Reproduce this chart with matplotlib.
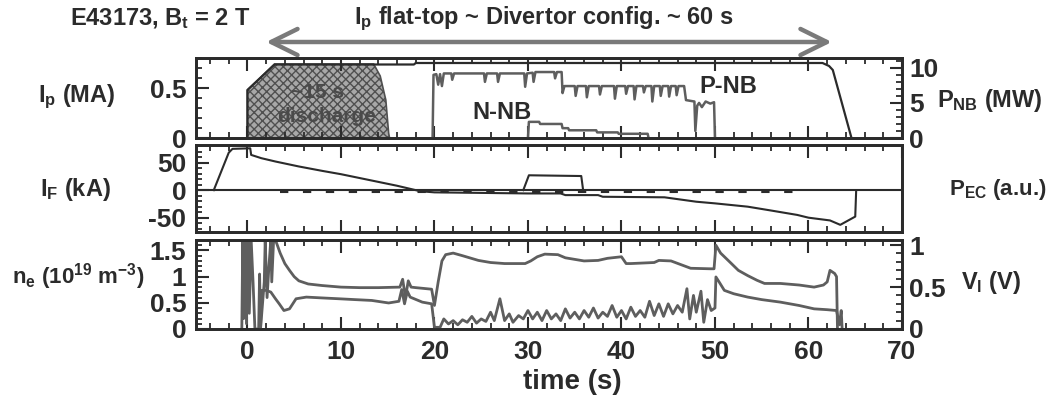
import matplotlib
matplotlib.use("Agg")
import matplotlib.pyplot as plt
from matplotlib.ticker import MultipleLocator

plt.rcParams["font.family"] = ["Liberation Sans", "DejaVu Sans"]
plt.rcParams["font.weight"] = "bold"
plt.rcParams["axes.unicode_minus"] = False
plt.rcParams["mathtext.fontset"] = "custom"
plt.rcParams["mathtext.rm"] = "Liberation Sans:bold"
plt.rcParams["mathtext.it"] = "Liberation Sans:bold"
plt.rcParams["mathtext.bf"] = "Liberation Sans:bold"
plt.rcParams["mathtext.default"] = "rm"
plt.rcParams["hatch.linewidth"] = 1.0

# ---- data --------------------------------------------------------------

# plasma current Ip (MA)
ip_t = [0, 0, 2.9, 17.8, 18.0, 61.5, 62.2, 62.6, 64.6]
ip_v = [0, 0.48, 0.735, 0.735, 0.75, 0.75, 0.72, 0.68, 0]

# shaded "~15 s discharge" outline (MA)
disc_t = [0, 0, 2.9, 13.5, 14.2, 14.8, 15.1, 15.2]
disc_v = [0, 0.48, 0.74, 0.74, 0.62, 0.38, 0.05, 0]

# P-NB total (MW)
pnb_t = [19.8, 19.9, 20.2, 20.4, 20.6, 20.8, 21.0, 21.8, 21.9, 22.1, 25.3, 25.4,
         25.6, 26.7, 26.8, 27.0, 29.6, 29.7, 29.9, 30.5, 30.6, 30.8, 32.8, 32.9,
         33.1, 33.6, 33.7, 33.9, 35.0, 35.1, 35.3, 36.2, 36.3, 36.5, 37.6, 37.7,
         37.9, 39.2, 39.3, 39.5, 40.4, 40.5, 40.7, 41.3, 41.4, 41.6, 42.3, 42.4,
         42.6, 43.2, 43.3, 43.5, 44.1, 44.2, 44.4, 45.0, 45.1, 45.3, 45.8, 45.9,
         46.1, 46.7, 46.9, 47.8, 47.9, 48.1, 48.3, 48.6, 49.0, 49.5, 49.9, 50.0]
pnb_v = [0, 9.0, 9.1, 7.6, 9.1, 7.4, 9.2, 9.2, 8.3, 9.2, 9.2, 8.0,
         9.2, 9.2, 8.0, 9.2, 9.2, 7.3, 9.2, 9.3, 8.0, 9.4, 9.4, 8.5,
         9.4, 9.4, 6.4, 7.4, 7.4, 6.0, 7.4, 7.4, 5.8, 7.4, 7.4, 6.2,
         7.4, 7.4, 5.6, 7.4, 7.4, 6.3, 7.4, 7.4, 5.5, 7.4, 7.4, 6.5,
         7.4, 7.4, 5.2, 7.4, 7.4, 6.0, 7.4, 7.4, 5.9, 7.4, 7.4, 6.1,
         7.4, 7.4, 5.4, 5.2, 1.0, 4.6, 5.0, 4.4, 5.2, 4.9, 5.1, 0]

# N-NB (MW)
nnb_t = [30.0, 30.1, 31.2, 31.3, 33.6, 33.7, 34.3, 34.4, 37.3, 37.4, 39.6, 39.7, 42.8, 42.9]
nnb_v = [0, 2.3, 2.3, 2.0, 2.0, 1.4, 1.4, 1.1, 1.1, 0.8, 0.8, 0.6, 0.6, 0]

# coil current I_F (kA)
if_t = [-3.6, -2.0, -1.6, 0.3, 0.4, 1.5, 3, 5.5, 8, 10, 12, 14, 16, 17.5, 18.5,
        20, 25, 30, 33.5, 34, 37.5, 38, 44.6, 48, 50, 53.5, 56, 58.8, 60, 62.3,
        63.4, 65.0, 65.1]
if_v = [0, 68, 75, 76, 64, 58, 52, 43, 35, 29, 22, 15, 8, 2, -2,
        -4, -5, -6, -6, -9, -9, -12, -13, -21, -24, -30, -37, -45, -50, -55,
        -63, -48, 0]

# dashed reference trace (kA)
ifd_t = [3.5, 59.0]
ifd_v = [-4, -4]

# EC power (a.u.)
pec_t = [29.5, 30.1, 35.7, 35.9]
pec_v = [0, 1.0, 0.95, 0]

# line density n_e (1e19 m^-3)
ne_t = [-0.6, -0.5, -0.4, -0.2, -0.1, 0.1, 0.2, 0.4, 0.6, 0.8, 1.2, 1.3, 1.4,
        1.8, 1.9, 2.1, 2.3, 2.5, 2.6, 2.8, 3.1, 3.5, 4.0, 4.5, 5.0, 5.5, 6.5,
        8.0, 10, 12, 14, 16.3, 16.6, 16.9, 17.2, 17.5, 18, 19.7, 20.0, 20.4,
        20.8, 21.2, 22, 23, 24.7, 26, 27.5, 29.7, 30.3, 31, 31.8, 33.2, 34, 35,
        36, 37.5, 38.5, 40, 40.5, 41, 43.5, 44, 45.3, 46.5, 47.4, 49.5, 49.9,
        50.1, 50.6, 51.7, 52.5, 53.5, 54.5, 55.3, 57, 59, 60.6, 61.6, 62.0,
        62.3, 62.8, 63.0, 63.1]
ne_v = [0, 1.7, 0.2, 1.7, 0.1, 1.7, 0.3, 1.7, 0.9, 0.0, 0.0, 1.05, 0.0,
        0.9, 1.7, 0.6, 1.2, 1.7, 0.9, 1.7, 1.65, 1.45, 1.25, 1.12, 1.0, 0.92, 0.86,
        0.83, 0.80, 0.79, 0.79, 0.80, 0.95, 0.60, 0.92, 0.80, 0.79, 0.76, 0.45, 0.9,
        1.3, 1.42, 1.45, 1.40, 1.31, 1.27, 1.25, 1.25, 1.30, 1.38, 1.43, 1.42, 1.36, 1.33,
        1.30, 1.31, 1.35, 1.38, 1.25, 1.25, 1.27, 1.31, 1.30, 1.22, 1.16, 1.15, 1.15,
        1.60, 1.45, 1.26, 1.12, 1.02, 0.93, 0.87, 0.87, 0.84, 0.80, 0.84, 0.90,
        1.12, 1.06, 1.00, 0.0]

# loop voltage V_l (V)
vl_t = [1.4, 1.5, 2.0, 2.5, 3.0, 3.4, 3.9, 4.5, 5.2, 6.3, 8, 9.8, 11.5, 13.3,
        15.1, 16.2, 16.5, 16.8, 17.1, 17.4, 18.7, 19.7, 20.0, 20.6,
        21.0, 21.5, 22, 22.5, 23, 23.5, 24, 24.5, 25, 25.5, 26, 26.4, 27, 27.5,
        28, 28.4, 29, 29.5, 30, 30.5, 31, 31.5, 32, 32.5, 33, 33.5, 34, 34.5,
        35, 35.5, 36, 36.5, 37, 37.5, 38, 38.5, 39, 39.5, 40, 40.5, 41, 41.5,
        42, 42.5, 43, 43.5, 44, 44.5, 45, 45.5, 46, 46.5, 47, 47.3, 47.7, 48,
        48.5, 48.8, 49.2, 49.6, 50.0, 50.1, 50.5, 51, 52, 53.5, 55, 57, 59,
        60.6, 62, 63.0, 63.3, 63.5, 63.6]
vl_v = [0.0, 0.46, 0.46, 0.44, 0.36, 0.30, 0.22, 0.24, 0.36, 0.38, 0.37, 0.36, 0.35, 0.34,
        0.31, 0.33, 0.47, 0.30, 0.45, 0.38, 0.32, 0.30, 0.02, 0.02,
        0.12, 0.06, 0.10, 0.05, 0.11, 0.08, 0.15, 0.07, 0.12, 0.09, 0.20, 0.10, 0.36, 0.10,
        0.18, 0.08, 0.16, 0.12, 0.22, 0.12, 0.20, 0.10, 0.22, 0.12, 0.18, 0.10, 0.24, 0.13,
        0.20, 0.12, 0.22, 0.14, 0.25, 0.13, 0.20, 0.15, 0.28, 0.14, 0.22, 0.12, 0.26, 0.15,
        0.22, 0.14, 0.33, 0.16, 0.30, 0.15, 0.30, 0.18, 0.28, 0.20, 0.48, 0.12, 0.40, 0.20,
        0.45, 0.08, 0.35, 0.22, 0.25, 0.62, 0.55, 0.46, 0.42, 0.38, 0.35, 0.32, 0.28,
        0.24, 0.23, 0.22, 0.05, 0.22, 0.0]

time_ticks = [0, 10, 20, 30, 40, 50, 60, 70]

# ---- figure ------------------------------------------------------------

ink = "#2b2b2b"
trace = "#5e5e5e"
W, H = 1060, 398

fig = plt.figure(figsize=(W / 100, H / 100), dpi=100)

def box(top, bottom):
    return [196 / W, 1 - bottom / H, (902 - 196) / W, (bottom - top) / H]

ax1 = fig.add_axes(box(58, 138))
ax2 = fig.add_axes(box(145, 232), sharex=ax1)
ax3 = fig.add_axes(box(240, 329), sharex=ax1)
ax1r = ax1.twinx()
ax2r = ax2.twinx()
ax3r = ax3.twinx()

# panel 1
ax1.fill(disc_t, disc_v, facecolor="#a8a8a8", edgecolor="#505050", hatch="xxxx", lw=1.2)
ax1.plot(ip_t, ip_v, color=ink, lw=1.6)
ax1r.plot(pnb_t, pnb_v, color=trace, lw=1.8)
ax1r.plot(nnb_t, nnb_v, color=trace, lw=1.8)
ax1.set_ylim(0, 0.8)
ax1r.set_ylim(0, 11.4)
ax1.text(7.5, 0.46, "~15 s", ha="center", va="center", fontsize=15, color="#4a4a4a")
ax1.text(8.5, 0.22, "discharge", ha="center", va="center", fontsize=15, color="#4a4a4a")
ax1r.text(27.2, 3.7, "N-NB", ha="center", va="center", fontsize=17, color=ink)
ax1r.text(51.4, 7.3, "P-NB", ha="center", va="center", fontsize=17, color=ink)

# panel 2
if_lo, if_hi = -76, 82
ax2.axhline(0, color=ink, lw=1.5)
ax2.plot(if_t, if_v, color=ink, lw=1.5)
ax2.plot(ifd_t, ifd_v, color=ink, lw=1.5, dashes=(4, 7))
ax2.set_ylim(if_lo, if_hi)
ax2r.plot(pec_t, pec_v, color=ink, lw=1.5)
ax2r.set_ylim(if_lo / 27, if_hi / 27)
ax2r.set_yticks([])

# panel 3
ax3.plot(ne_t, ne_v, color=trace, lw=2.0)
ax3r.plot(vl_t, vl_v, color=trace, lw=2.0)
ax3.set_ylim(0, 1.7)
ax3r.set_ylim(0, 1.06)

ax1.set_xlim(-5.5, 70)

# ticks
for ax in (ax1, ax2, ax3):
    ax.xaxis.set_major_locator(MultipleLocator(10))
    ax.xaxis.set_minor_locator(MultipleLocator(2))
    ax.tick_params(axis="x", which="both", direction="in", top=True, bottom=True,
                   labelbottom=False, color=ink)
    ax.tick_params(axis="both", which="major", length=9, width=1.5)
    ax.tick_params(axis="both", which="minor", length=4, width=1.3)
    ax.tick_params(axis="y", which="both", direction="in", labelsize=19,
                   labelcolor=ink, color=ink, pad=7)
    for s in ax.spines.values():
        s.set_linewidth(2.0)
        s.set_color(ink)
for ax in (ax1r, ax2r, ax3r):
    ax.tick_params(axis="y", which="major", direction="in", length=9, width=1.5,
                   labelsize=19, labelcolor=ink, color=ink, pad=5)
    ax.tick_params(axis="y", which="minor", direction="in", length=4, width=1.3, color=ink)
    for s in ax.spines.values():
        s.set_linewidth(2.0)
        s.set_color(ink)

ax3.tick_params(axis="x", labelbottom=True, labelsize=19, labelcolor=ink, pad=8)
ax3.set_xticks(time_ticks)

ax1.set_yticks([0, 0.5])
ax1.set_yticklabels(["0", "0.5"])
ax1.yaxis.set_minor_locator(MultipleLocator(0.1))
ax1r.set_yticks([0, 5, 10])
ax1r.yaxis.set_minor_locator(MultipleLocator(1))
ax2.set_yticks([-50, 0, 50])
ax2.yaxis.set_minor_locator(MultipleLocator(10))
ax3.set_yticks([0, 0.5, 1, 1.5])
ax3.set_yticklabels(["0", "0.5", "1", "1.5"])
ax3.yaxis.set_minor_locator(MultipleLocator(0.1))
ax3r.set_yticks([0, 0.5, 1])
ax3r.set_yticklabels(["0", "0.5", "1"])
ax3r.yaxis.set_minor_locator(MultipleLocator(0.1))

# labels
fig.text(572 / W, 1 - 382 / H, "time (s)", ha="center", va="center", fontsize=20,
         fontweight="bold", color=ink)
fig.text(77 / W, 1 - 97 / H, r"I$_p$ (MA)", ha="center", va="center", fontsize=17, color=ink)
fig.text(75 / W, 1 - 190 / H, r"I$_F$ (kA)", ha="center", va="center", fontsize=17, color=ink)
fig.text(78 / W, 1 - 277 / H, r"n$_e$ (10$^{19}$ m$^{-3}$)", ha="center", va="center",
         fontsize=16, color=ink)
fig.text(990 / W, 1 - 100 / H, r"P$_{NB}$ (MW)", ha="center", va="center", fontsize=17, color=ink)
fig.text(998 / W, 1 - 190 / H, r"P$_{EC}$ (a.u.)", ha="center", va="center", fontsize=16, color=ink)
fig.text(991 / W, 1 - 282 / H, r"V$_l$ (V)", ha="center", va="center", fontsize=17, color=ink)

fig.text(160 / W, 1 - 19 / H, r"E43173, B$_t$ = 2 T", ha="center", va="center",
         fontsize=17, color=ink)
fig.text(544 / W, 1 - 19 / H, r"I$_p$ flat-top ~ Divertor config. ~ 60 s", ha="center",
         va="center", fontsize=17, color=ink)

ax1.annotate("", xy=(2.0, 1.2), xytext=(62.5, 1.2),
             xycoords=ax1.get_xaxis_transform(), annotation_clip=False,
             arrowprops=dict(arrowstyle="<->,head_length=0.95,head_width=0.47",
                             mutation_scale=20, lw=3.2, color="#7a7a7a",
                             shrinkA=0, shrinkB=0))

fig.savefig("out.png", dpi=100)
